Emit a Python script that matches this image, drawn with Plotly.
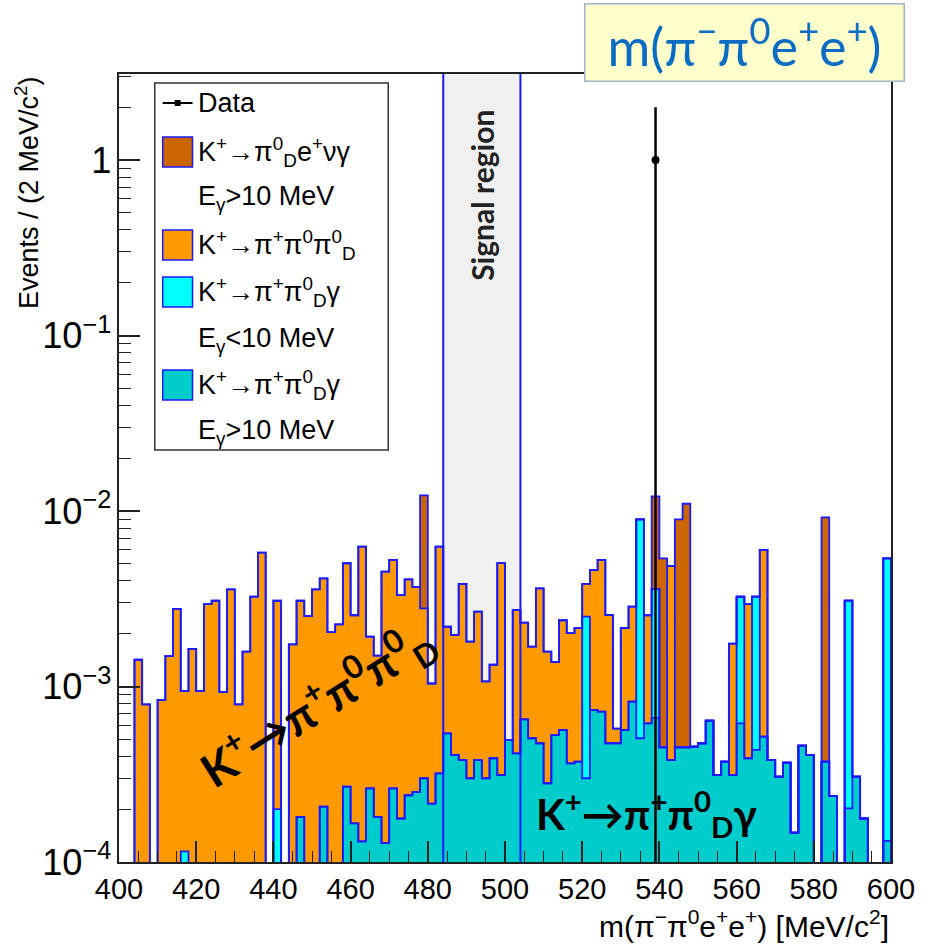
import numpy as np
import plotly.graph_objects as go

# ---------------- data (2 MeV bins from 400 to 600) ----------------
bin_low = list(range(400, 600, 2))

# K+ -> pi+ pi0_D gamma, E_gamma > 10 MeV (teal)
teal = [0, 0, 0, 0, 0, 0, 0, 0, 0, 0,
        0, 0, 0, 0, 0, 0, 0, 0, 0, 0,
        0, 0, 0, 1.81e-4, 0, 0, 2.07e-4, 0, 0, 2.69e-4,
        1.66e-4, 1.31e-4, 2.63e-4, 1.81e-4, 1.28e-4, 2.63e-4, 1.77e-4, 2.4e-4, 2.5e-4, 3.0e-4,
        2.15e-4, 3.2e-4, 5.4e-4, 4.07e-4, 3.81e-4, 3.0e-4, 3.81e-4, 3.0e-4, 3.9e-4, 3.13e-4,
        4.96e-4, 4.16e-4, 6.5e-4, 5.07e-4, 4.75e-4, 2.81e-4, 5.29e-4, 5.65e-4, 3.65e-4, 3.73e-4,
        3.0e-4, 7.35e-4, 7.2e-4, 4.75e-4, 4.75e-4, 5.65e-4, 8.2e-4, 5.07e-4, 6.17e-4, 6.6e-4,
        4.5e-4, 3.81e-4, 4.5e-4, 4.5e-4, 4.54e-4, 4.75e-4, 6.38e-4, 3.13e-4, 3.73e-4, 3.13e-4,
        6.17e-4, 3.9e-4, 4.35e-4, 5.18e-4, 3.81e-4, 3.06e-4, 3.68e-4, 1.47e-4, 4.6e-4, 4.07e-4,
        0, 3.73e-4, 2.38e-4, 0, 2.02e-4, 3.06e-4, 1.77e-4, 0, 0, 1.32e-4]

# K+ -> pi+ pi0_D gamma, E_gamma < 10 MeV (cyan)
cyan = [0] * 100
for i, v in {8: 1.15e-4, 20: 2.0e-4, 60: 2.2e-3, 67: 8.46e-3, 69: 2.94e-3,
             80: 2.63e-3, 82: 2.82e-3, 94: 2.88e-3, 99: 5.24e-3}.items():
    cyan[i] = v

# K+ -> pi+ pi0 pi0_D (orange)
orange = [0, 0, 1.42e-3, 7.9e-4, 0, 8.4e-4, 1.49e-3, 2.77e-3, 8.25e-4, 1.64e-3,
          9.4e-4, 2.95e-3, 3.08e-3, 9.3e-4, 3.58e-3, 7.9e-4, 1.58e-3, 3.25e-3, 5.79e-3, 0,
          2.88e-3, 0, 1.74e-3, 2.9e-3, 2.52e-3, 3.58e-3, 3.92e-3, 2.04e-3, 2.26e-3, 4.77e-3,
          2.38e-3, 6.13e-3, 1.66e-3, 1.32e-3, 4.38e-3, 5.0e-3, 3.14e-3, 3.84e-3, 3.45e-3, 2.49e-3,
          8.25e-4, 5.94e-3, 1.65e-3, 1.56e-3, 3.46e-3, 1.5e-3, 2.29e-3, 7.7e-4, 9.4e-4, 4.73e-3,
          0, 2.31e-3, 1.66e-3, 1.18e-3, 3.15e-3, 1.3e-3, 8.5e-4, 1.82e-3, 1.65e-3, 1.78e-3,
          1.34e-3, 3.88e-3, 4.54e-3, 2.08e-3, 1.0e-4, 1.59e-3, 2.03e-3, 0, 1.93e-3, 0,
          0, 4.48e-3, 0, 0, 0, 0, 0, 0, 0, 1.44e-3,
          0, 2.56e-3, 0, 5.48e-3, 0, 0, 0, 0, 0, 0,
          0, 0, 0, 0, 0, 0, 0, 0, 0, 0]

# K+ -> pi0_D e+ nu gamma, E_gamma > 10 MeV (brown)
brown = [0] * 100
for i, v in {39: 9.5e-3, 69: 8.5e-3, 70: 4.92e-3, 72: 8.52e-3, 73: 1.055e-2, 91: 8.83e-3}.items():
    brown[i] = v

# data
data_x = [539]
data_y = [1.0]
data_err = [1.0]

signal_lo, signal_hi = 484, 504
x_ticks = list(range(400, 601, 20))

# ---------------- figure ----------------
W, H = 927, 947
ML, MR, MT, MB = 119, 31, 74, 85
PW, PH = W - ML - MR, H - MT - MB

def px(xp):
    return (xp - ML) / PW

def py(yp):
    return (H - MB - yp) / PH

BLUE = "#1a1aff"
COL_TEAL = "#00cccc"
COL_CYAN = "#00ffff"
COL_ORANGE = "#ff9900"
COL_BROWN = "#cc6600"
AXC = "#222222"
FONT = "Liberation Sans, Arial, sans-serif"
FONT2 = "Lato, Open Sans, sans-serif"

t = np.array(teal)
c = np.array(cyan)
o = np.array(orange)
b = np.array(brown)
lv_teal = t
lv_cyan = t + c
lv_orange = t + c + o
lv_total = t + c + o + b

centers = np.array(bin_low) + 1.0
edges = list(bin_low)
TINY = 1e-7

fig = go.Figure()

for lv, col in [(lv_total, COL_BROWN), (lv_orange, COL_ORANGE), (lv_cyan, COL_CYAN), (lv_teal, COL_TEAL)]:
    yv = [v if v > 0 else None for v in lv]
    fig.add_trace(go.Bar(x=centers, y=yv, base=TINY, width=2.0,
                         marker=dict(color=col, line=dict(width=0)),
                         showlegend=False, hoverinfo="skip"))

for lv in [lv_total, lv_orange, lv_cyan, lv_teal]:
    xs = [400] + edges + [600]
    ys = [TINY] + [v if v > 0 else TINY for v in lv] + [TINY]
    fig.add_trace(go.Scatter(x=xs, y=ys, mode="lines", line=dict(color=BLUE, width=1.8, shape="hv"),
                             showlegend=False, hoverinfo="skip"))

fig.add_trace(go.Scatter(x=data_x, y=data_y, mode="markers",
                         marker=dict(color="black", size=8, symbol="circle"),
                         error_y=dict(type="data", array=data_err, color="black", thickness=2.5, width=0),
                         showlegend=False))

shapes = []
# signal region
shapes.append(dict(type="rect", xref="x", yref="y domain", x0=signal_lo, x1=signal_hi, y0=0, y1=1,
                   fillcolor="#f0f0f0", line=dict(width=0), layer="below"))
for xv in (signal_lo, signal_hi):
    shapes.append(dict(type="line", xref="x", yref="y domain", x0=xv, x1=xv, y0=0, y1=1,
                       line=dict(color=BLUE, width=2), layer="above"))

# legend box
shapes.append(dict(type="rect", xref="paper", yref="paper", x0=px(155), x1=px(390), y0=py(450), y1=py(83),
                   fillcolor="white", line=dict(color="#333333", width=1.5), layer="above"))
# data symbol
shapes.append(dict(type="line", xref="paper", yref="paper", x0=px(163), x1=px(193), y0=py(103), y1=py(103),
                   line=dict(color="black", width=2), layer="above"))
shapes.append(dict(type="rect", xref="paper", yref="paper", x0=px(175), x1=px(181), y0=py(106), y1=py(100),
                   fillcolor="black", line=dict(width=0), layer="above"))
for yc, col in [(152, COL_BROWN), (245, COL_ORANGE), (292, COL_CYAN), (385, COL_TEAL)]:
    shapes.append(dict(type="rect", xref="paper", yref="paper", x0=px(163), x1=px(193),
                       y0=py(yc + 15), y1=py(yc - 15), fillcolor=col,
                       line=dict(color=BLUE, width=1.5), layer="above"))

ann = []
leg_rows = [
    (103, "Data"),
    (152, "K<sup>+</sup>→π<sup>0</sup><sub>D</sub>e<sup>+</sup>νγ"),
    (198, "E<sub>γ</sub>&gt;10 MeV"),
    (245, "K<sup>+</sup>→π<sup>+</sup>π<sup>0</sup>π<sup>0</sup><sub>D</sub>"),
    (292, "K<sup>+</sup>→π<sup>+</sup>π<sup>0</sup><sub>D</sub>γ"),
    (340, "E<sub>γ</sub>&lt;10 MeV"),
    (385, "K<sup>+</sup>→π<sup>+</sup>π<sup>0</sup><sub>D</sub>γ"),
    (432, "E<sub>γ</sub>&gt;10 MeV"),
]
for yc, txt in leg_rows:
    ann.append(dict(xref="paper", yref="paper", x=px(197), y=py(yc), text=txt, showarrow=False,
                    xanchor="left", yanchor="middle", font=dict(family=FONT, size=27, color="black")))

ann.append(dict(xref="x", yref="paper", x=(signal_lo + signal_hi) / 2, y=py(195), text="Signal region",
                textangle=-90, showarrow=False, xanchor="center", yanchor="middle",
                font=dict(family=FONT2, size=30, color="#222222", weight=700)))

ann.append(dict(xref="paper", yref="paper", x=px(318), y=py(705),
                text="K<sup>+</sup>→π<sup>+</sup>π<sup>0</sup>π<sup>0</sup><sub>D</sub>",
                textangle=-32, showarrow=False, xanchor="center", yanchor="middle",
                font=dict(family=FONT2, size=46, color="black", weight=700)))
ann.append(dict(xref="paper", yref="paper", x=px(650), y=py(813),
                text="K<sup>+</sup>→π<sup>+</sup>π<sup>0</sup><sub>D</sub>γ",
                showarrow=False, xanchor="center", yanchor="middle",
                font=dict(family=FONT2, size=42, color="black", weight=700)))

ann.append(dict(xref="paper", yref="paper", x=px(749), y=py(42),
                text="m(π<sup>−</sup>π<sup>0</sup>e<sup>+</sup>e<sup>+</sup>)",
                showarrow=False, xanchor="center", yanchor="middle",
                width=318, height=76, bgcolor="#ffffcc", bordercolor="#9db2cc", borderwidth=1.5, borderpad=0,
                font=dict(family=FONT2, size=52, color="#0a6cc2")))

ann.append(dict(xref="paper", yref="paper", x=1.0, y=py(924),
                text="m(π<sup>−</sup>π<sup>0</sup>e<sup>+</sup>e<sup>+</sup>) [MeV/c<sup>2</sup>]",
                showarrow=False, xanchor="right", yanchor="middle", font=dict(family=FONT, size=30, color="black")))
ann.append(dict(xref="paper", yref="paper", x=px(26), y=1.0,
                text="Events / (2 MeV/c<sup>2</sup>)", textangle=-90,
                showarrow=False, xanchor="center", yanchor="top", font=dict(family=FONT, size=27, color="black")))

fig.update_layout(
    width=W, height=H,
    margin=dict(l=ML, r=MR, t=MT, b=MB),
    paper_bgcolor="white", plot_bgcolor="white",
    barmode="overlay", bargap=0,
    showlegend=False,
    shapes=shapes, annotations=ann,
    xaxis=dict(range=[400, 600], tickvals=x_ticks, ticks="inside", ticklen=21, tickwidth=1.5, tickcolor=AXC,
               showline=True, linecolor=AXC, linewidth=1.5, mirror=True, showgrid=False, zeroline=False,
               tickfont=dict(family=FONT, size=29, color="black"),
               minor=dict(dtick=5, tick0=400, ticks="inside", ticklen=11, tickwidth=1.2, tickcolor=AXC)),
    yaxis=dict(type="log", range=[-4, 0.49], dtick=1, exponentformat="power", ticks="inside", ticklen=21,
               tickwidth=1.5, tickcolor=AXC, showline=True, linecolor=AXC, linewidth=1.5, mirror=True,
               showgrid=False, zeroline=False, tickfont=dict(family=FONT, size=29, color="black"),
               minor=dict(dtick="D1", ticks="inside", ticklen=12, tickwidth=1.2, tickcolor=AXC)),
)

fig.write_html("out.html", config={"displayModeBar": False},
               post_script="document.body.style.margin='0px';")
